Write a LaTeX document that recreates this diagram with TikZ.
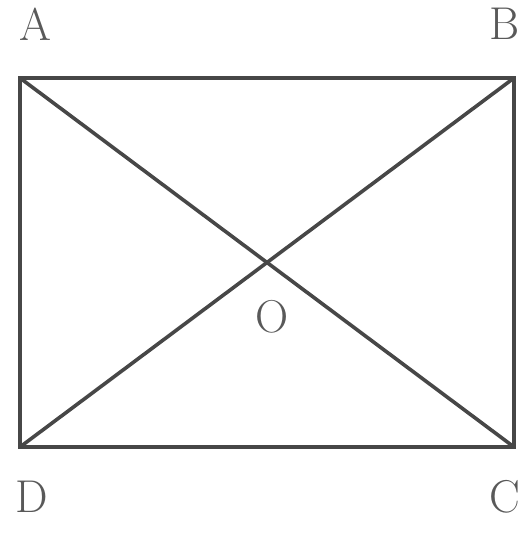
\documentclass[tikz,border=0pt]{standalone}
\begin{document}
\begin{tikzpicture}[x=1pt,y=1pt,
  edge/.style={draw=black!72,line width=3.6pt,line join=miter},
  lbl/.style={text=black!65,font=\fontsize{46}{46}\selectfont,inner sep=0pt}]
\useasboundingbox (0,0) rectangle (522,544);
\coordinate (A) at (20,466);
\coordinate (B) at (514,466);
\coordinate (C) at (514,97);
\coordinate (D) at (20,97);
\draw[edge] (A) -- (B) -- (C) -- (D) -- cycle;
\draw[edge] (A) -- (C);
\draw[edge] (B) -- (D);
\node[lbl] (la) at (35,520) {A};
\node[lbl] (lb) at (505,520) {B};
\node[lbl] (ld) at (32,47) {D};
\node[lbl] (lc) at (505,47) {C};
\node[lbl] (lo) at (272,227) {O};
\end{tikzpicture}
\end{document}
